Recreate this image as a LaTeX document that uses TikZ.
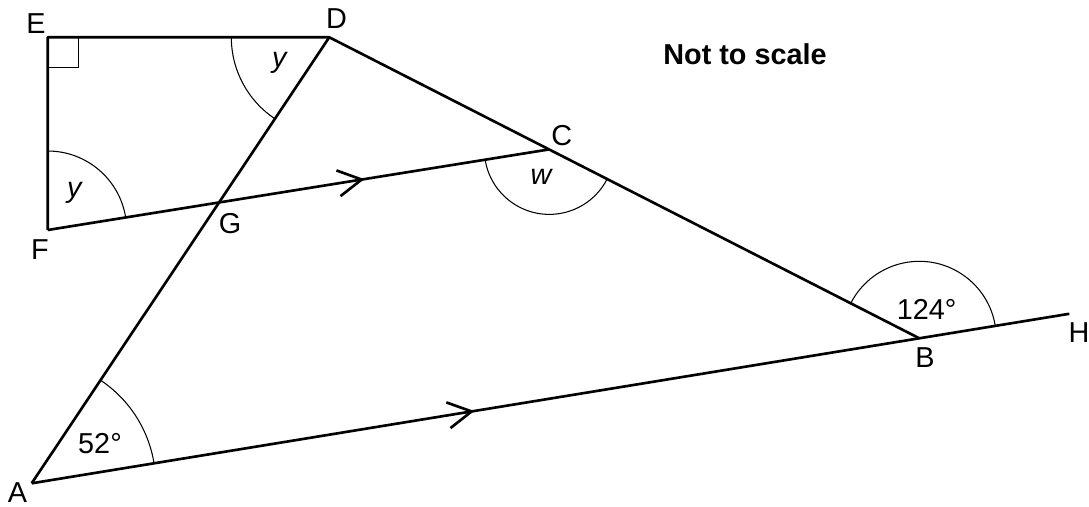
\documentclass[tikz,border=0pt]{standalone}
\usepackage{fontspec}
\setmainfont{Liberation Sans}
\usepackage{tikz}
\usetikzlibrary{angles,decorations.markings}
\tikzstyle{every node}=[font=\fontsize{16.4}{19}\selectfont,inner sep=0pt]
\tikzstyle{side}=[line width=1.5pt,line join=round]
\tikzstyle{angmark}=[draw,line width=0.6pt]
\tikzset{parallel/.style={postaction={decorate},decoration={markings,
  mark=at position #1 with {\draw[line width=1.5pt,line join=miter] (-0.47cm,0.26cm) -- (0,0) -- (-0.47cm,-0.26cm);}}}}

\begin{document}
\begin{tikzpicture}[x=0.02cm,y=0.02cm]
\useasboundingbox (0,0) rectangle (1089,507);

\coordinate (A) at (31.7,23.7);
\coordinate (B) at (919.3,168.7);
\coordinate (C) at (549.3,357.6);
\coordinate (D) at (329.3,469.7);
\coordinate (E) at (47.7,469.7);
\coordinate (F) at (47.7,277);
\coordinate (G) at (intersection of A--D and F--C);
\coordinate (H) at (1069.3,193.2);

\draw[side] (F) -- (E) -- (D) -- (B);
\draw[side] (A) -- (D);
\draw[side,parallel=0.424] (A) -- (H);
\draw[side,parallel=0.626] (F) -- (C);

\pic[angmark,angle radius=0.61cm] {right angle = D--E--F};
\pic[angmark,angle radius=1.96cm] {angle = E--D--A};
\pic[angmark,angle radius=1.58cm] {angle = C--F--E};
\pic[angmark,angle radius=1.3cm] {angle = F--C--B};
\pic[angmark,angle radius=1.54cm] {angle = H--B--C};
\pic[angmark,angle radius=2.48cm] {angle = B--A--D};

\node (lA) at (17.5,14.5) {A};
\node (lB) at (925,149) {B};
\node (lC) at (561.7,371) {C};
\node (lD) at (336.5,488) {D};
\node (lE) at (36,483) {E};
\node (lF) at (40,257) {F};
\node (lG) at (230,283) {G};
\node (lH) at (1079,174) {H};

\node (yD) at (280,444) {\textit{y}};
\node (yF) at (75,314.3) {\textit{y}};
\node (wC) at (541.7,330.3) {\textit{w}};
\node (aB) at (926.7,197.7) {124°};
\node (aA) at (100,63.7) {52°};

\node (scale) at (745,453) {\textbf{Not to scale}};
\end{tikzpicture}
\end{document}
